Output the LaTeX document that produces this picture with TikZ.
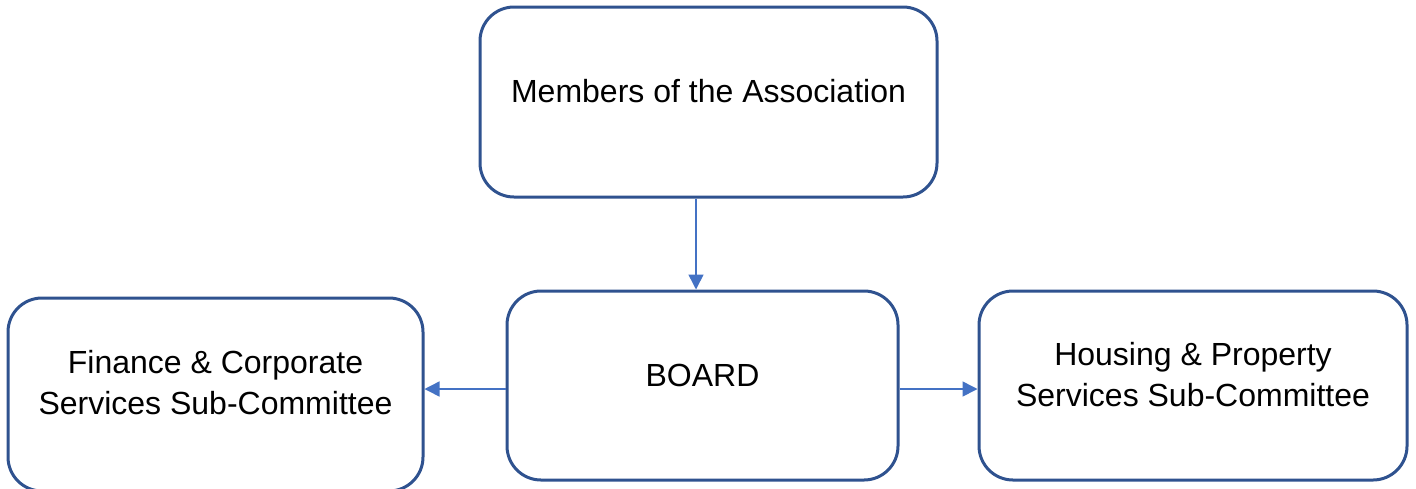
\documentclass[tikz,border=0pt]{standalone}
\usepackage{fontspec}
\setmainfont{Liberation Sans}
\usetikzlibrary{arrows.meta,calc}
\definecolor{boxblue}{HTML}{2F528F}
\definecolor{arrblue}{HTML}{4472C4}
\begin{document}
\begin{tikzpicture}[x=0.5pt,y=-0.5pt,
  box/.style={draw=boxblue,line width=1.5pt,rounded corners=17pt,fill=white,inner sep=0pt},
  txt/.style={font=\fontsize{16}{20.5}\selectfont,align=center,text=black,inner sep=0pt},
  arr/.style={draw=arrblue,line width=0.75pt,-{Triangle[length=7.5pt,width=7.5pt]}}]
\useasboundingbox (0,0) rectangle (1416,488);
\begin{scope}
\clip (0,0) rectangle (1416,488);
\node[box,minimum width=228.5pt,minimum height=95pt] (m) at (708.5,102) {};
\node[box,minimum width=195.5pt,minimum height=94.5pt] (b) at (702.5,385.5) {};
\node[box,minimum width=207.5pt,minimum height=96.5pt] (f) at (215.5,394.5) {};
\node[box,minimum width=214pt,minimum height=94.5pt] (h) at (1193,385.5) {};
\end{scope}
\node[txt] (mt) at (708.5,91) {Members of the Association};
\node[txt] (bt) at (702.5,375) {BOARD};
\node[txt] (ft) at (215.5,383) {Finance \& Corporate\\Services Sub-Committee};
\node[txt] (ht) at (1193,375) {Housing \& Property\\Services Sub-Committee};
\draw[arr] ([xshift=-6.25pt]m.south) -- ([xshift=-6.25pt]m.south |- b.north);
\draw[arr] ([yshift=-1.75pt]b.west) -- ([yshift=-1.75pt]b.west -| f.east);
\draw[arr] ([yshift=-1.75pt]b.east) -- ([yshift=-1.75pt]b.east -| h.west);
\end{tikzpicture}
\end{document}
